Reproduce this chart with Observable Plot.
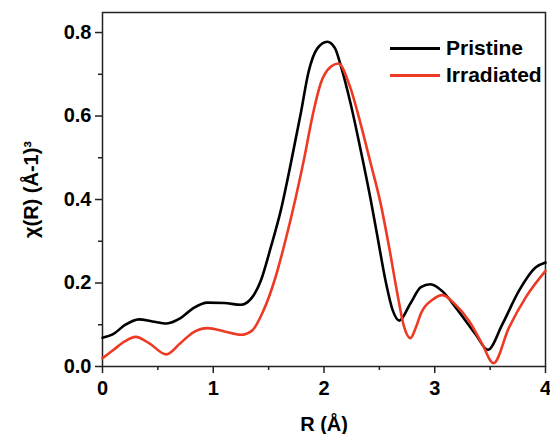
<!DOCTYPE html>
<html>
<head>
<meta charset="utf-8">
<script src="https://cdn.jsdelivr.net/npm/d3@7"></script>
<script src="https://cdn.jsdelivr.net/npm/@observablehq/plot@0.6"></script>
<style>
  html, body { margin: 0; padding: 0; background: #fff; }
  #wrap { position: relative; width: 550px; height: 434px; font-family: "Liberation Sans", Arial, sans-serif; }
  .leg { position: absolute; display: flex; align-items: center; font-weight: bold; font-size: 21px; color: #000; }
  .sw { width: 50px; height: 3px; margin-right: 6px; }
</style>
</head>
<body>
<div id="wrap"></div>
<script>
// Pristine (black) — R (Å), χ(R)
const pristineR = [0, 0.1, 0.2, 0.33, 0.45, 0.58, 0.7, 0.82, 0.95, 1.1, 1.25, 1.34, 1.43, 1.52, 1.61, 1.70, 1.79, 1.86, 1.94, 2.03, 2.10, 2.15, 2.24, 2.33, 2.42, 2.48, 2.56, 2.62, 2.68, 2.78, 2.875, 2.96, 3.07, 3.19, 3.37, 3.48, 3.61, 3.76, 3.91, 4.0];
const pristineChi = [0.069, 0.078, 0.099, 0.113, 0.108, 0.103, 0.115, 0.140, 0.153, 0.152, 0.148, 0.162, 0.206, 0.286, 0.374, 0.486, 0.606, 0.705, 0.762, 0.778, 0.762, 0.722, 0.630, 0.520, 0.402, 0.315, 0.200, 0.135, 0.110, 0.151, 0.190, 0.197, 0.180, 0.141, 0.077, 0.040, 0.101, 0.181, 0.237, 0.249];

// Irradiated (red)
const irradR = [0, 0.1, 0.2, 0.30, 0.42, 0.576, 0.7, 0.82, 0.95, 1.1, 1.25, 1.35, 1.45, 1.56, 1.65, 1.745, 1.82, 1.90, 1.97, 2.06, 2.13, 2.23, 2.33, 2.42, 2.51, 2.59, 2.66, 2.72, 2.78, 2.83, 2.875, 2.98, 3.07, 3.18, 3.31, 3.43, 3.53, 3.67, 3.82, 4.0];
const irradChi = [0.020, 0.040, 0.060, 0.071, 0.056, 0.029, 0.055, 0.082, 0.092, 0.084, 0.076, 0.086, 0.132, 0.212, 0.300, 0.405, 0.497, 0.605, 0.678, 0.718, 0.726, 0.674, 0.582, 0.488, 0.392, 0.283, 0.178, 0.098, 0.068, 0.094, 0.127, 0.160, 0.171, 0.150, 0.109, 0.053, 0.008, 0.093, 0.165, 0.229];

const seriesNames = ["Pristine", "Irradiated"];
const seriesColors = ["#000000", "#ee3a24"];

const xTicks = [0, 1, 2, 3, 4];
const xMinorTicks = [0.5, 1.5, 2.5, 3.5];
const yTicks = [0, 0.2, 0.4, 0.6, 0.8];
const yMinorTicks = [0.1, 0.3, 0.5, 0.7];
const xTitle = "R (Å)";
const yTitle = "χ(R) (Å-1)³";

const pristine = pristineR.map((r, i) => ({R: r, chi: pristineChi[i]}));
const irradiated = irradR.map((r, i) => ({R: r, chi: irradChi[i]}));

const font = {fontFamily: "'Liberation Sans', Arial, sans-serif", fontWeight: "bold", fontSize: "20px", color: "#222"};

const chart = Plot.plot({
  width: 550,
  height: 434,
  marginLeft: 102,
  marginRight: 5,
  marginTop: 12,
  marginBottom: 68,
  style: {...font, background: "#fff", overflow: "visible"},
  x: {domain: [0, 4]},
  y: {domain: [0, 0.848]},
  marks: [
    Plot.axisX({ticks: xTicks, tickSize: 7, tickPadding: 7, tickFormat: d => String(d), label: null, fill: "#000", strokeWidth: 1.5}),
    Plot.axisX({ticks: xMinorTicks, tickSize: 4, tickFormat: () => "", label: null, strokeWidth: 1.5}),
    Plot.axisY({ticks: yTicks, tickSize: 7, tickPadding: 4, tickFormat: d => d.toFixed(1), label: null, fill: "#000", strokeWidth: 1.5}),
    Plot.axisY({ticks: yMinorTicks, tickSize: 4, tickFormat: () => "", label: null, strokeWidth: 1.5}),
    Plot.frame({stroke: "#222", strokeWidth: 1.5}),
    Plot.line(pristine, {x: "R", y: "chi", stroke: seriesColors[0], strokeWidth: 2.6, curve: "monotone-x"}),
    Plot.line(irradiated, {x: "R", y: "chi", stroke: seriesColors[1], strokeWidth: 2.6, curve: "monotone-x"}),
    Plot.text([xTitle], {frameAnchor: "bottom", dy: 58, text: d => d, lineAnchor: "middle", fontSize: 20, fontWeight: "bold", fill: "#000"}),
    Plot.text([yTitle], {frameAnchor: "left", dx: -71, rotate: -90, text: d => d, lineAnchor: "middle", textAnchor: "middle", fontSize: 20, fontWeight: "bold", fill: "#000"})
  ]
});

const wrap = document.getElementById("wrap");
wrap.appendChild(chart);

// Legend overlay (inside plot, top right)
const legTops = [48, 75];
seriesNames.forEach((name, i) => {
  const el = document.createElement("div");
  el.className = "leg";
  el.style.left = "390px";
  el.style.top = (legTops[i] - 12) + "px";
  el.style.height = "24px";
  const sw = document.createElement("div");
  sw.className = "sw";
  sw.style.background = seriesColors[i];
  const tx = document.createElement("span");
  tx.textContent = name;
  el.appendChild(sw);
  el.appendChild(tx);
  wrap.appendChild(el);
});
</script>
</body>
</html>
